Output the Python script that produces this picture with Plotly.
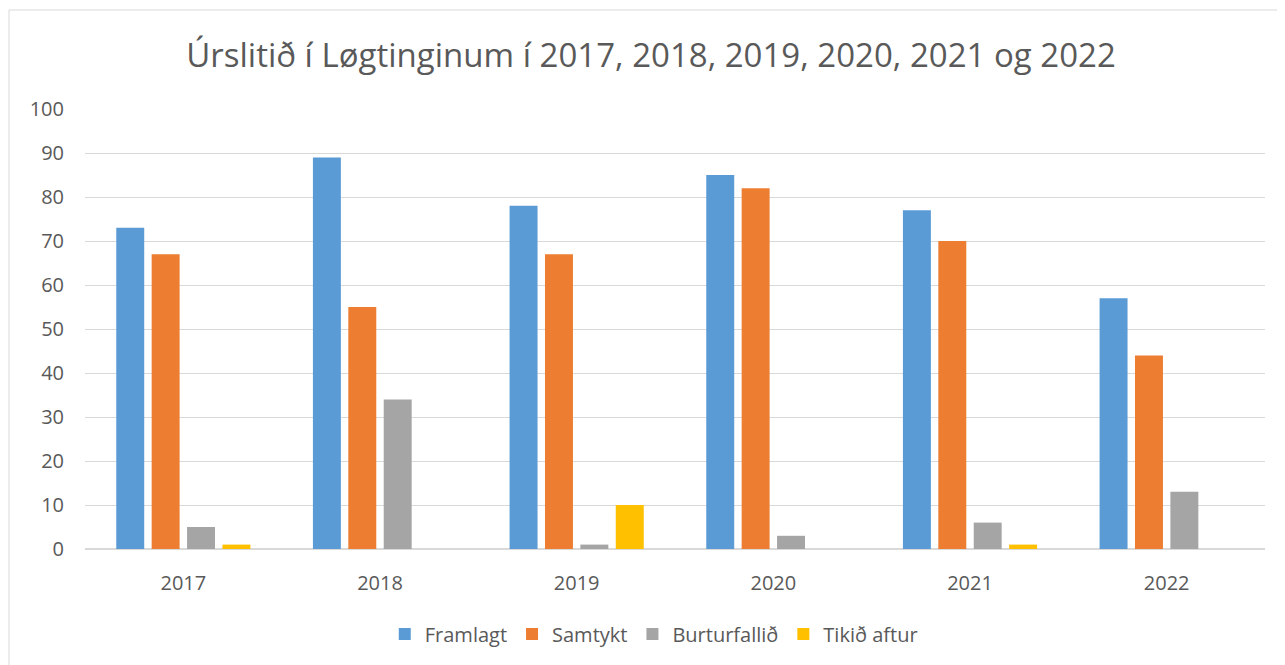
import plotly.graph_objects as go

years = ["2017", "2018", "2019", "2020", "2021", "2022"]
framlagt = [73, 89, 78, 85, 77, 57]
samtykt = [67, 55, 67, 82, 70, 44]
burturfallid = [5, 34, 1, 3, 6, 13]
tikid_aftur = [1, 0, 10, 0, 1, 0]

series = [
    ("Framlagt", framlagt, "#5B9BD5"),
    ("Samtykt", samtykt, "#ED7D31"),
    ("Burturfallið", burturfallid, "#A5A5A5"),
    ("Tikið aftur", tikid_aftur, "#FFC000"),
]

fig = go.Figure()
for name, vals, col in series:
    fig.add_trace(go.Bar(
        x=years, y=vals, name=name,
        marker=dict(color=col, line=dict(width=0)),
    ))

font = "Open Sans, Lato, sans-serif"
W, H = 1269, 665
fig.update_layout(
    width=W, height=H,
    margin=dict(l=77, r=12, t=101, b=H - 541),
    paper_bgcolor="white", plot_bgcolor="white",
    barmode="group", bargap=0.28, bargroupgap=0.21,
    title=dict(text="Úrslitið í Løgtinginum í 2017, 2018, 2019, 2020, 2021 og 2022",
               x=(651 - 8) / W, xanchor="center", y=1 - 47 / H, yanchor="middle",
               font=dict(family=font, size=33, color="#595959")),
    font=dict(family=font, size=20, color="#595959"),
    legend=dict(orientation="h", x=0.482, xanchor="center", y=-0.193, yanchor="middle",
                font=dict(size=20, color="#595959"), traceorder="normal"),
    showlegend=True,
)
fig.update_yaxes(range=[0, 100], dtick=10, showgrid=True, gridcolor="#D9D9D9", gridwidth=1,
                 zeroline=True, zerolinecolor="#D9D9D9", zerolinewidth=1.5,
                 ticklabelstandoff=20, showline=False, fixedrange=True, automargin=False)
fig.update_xaxes(showgrid=False, showline=False, ticklabelstandoff=20, fixedrange=True,
                 automargin=False)

fig.add_shape(type="rect", xref="paper", yref="paper",
              x0=(9 - 85) / 1180, x1=1.03, y0=-0.4, y1=(549 - 10) / 440,
              line=dict(color="#D9D9D9", width=1), fillcolor="rgba(0,0,0,0)", layer="below")

fig.write_html("out.html")
